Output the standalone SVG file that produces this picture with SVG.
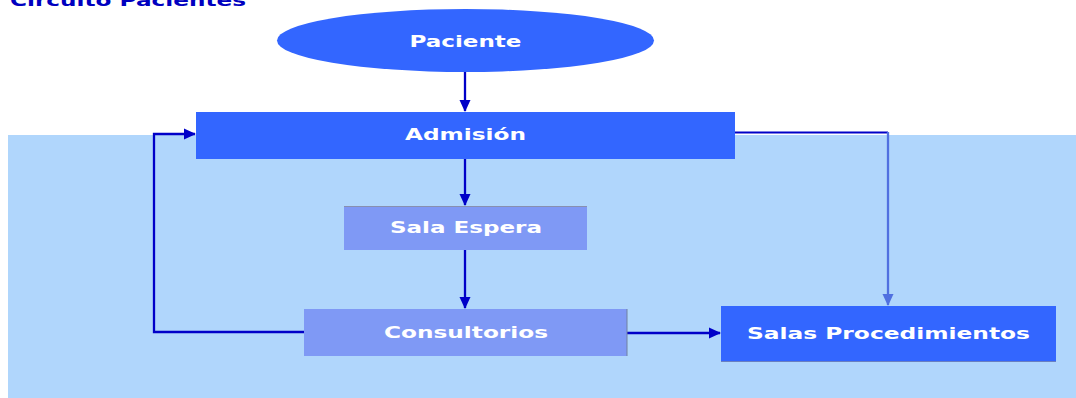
<svg xmlns="http://www.w3.org/2000/svg" width="1076" height="398" viewBox="0 0 1076 398">
<style>
.lbl{font-family:"DejaVu Sans",sans-serif;font-weight:bold;font-size:16px;fill:#ffffff;text-anchor:middle}
.dark{fill:#3366ff}
.light{fill:#7f99f5}
.con{fill:none;stroke:#0000c8;stroke-width:2.3}
</style>
<defs>
<marker id="ah" markerWidth="12" markerHeight="12" refX="11" refY="6" orient="auto" markerUnits="userSpaceOnUse">
<path d="M0,0.5 L12,6 L0,11.5 Z" fill="#0000c8"/>
</marker>
<marker id="ah2" markerWidth="12" markerHeight="12" refX="11" refY="6" orient="auto" markerUnits="userSpaceOnUse">
<path d="M0,0.5 L12,6 L0,11.5 Z" fill="#5070e0"/>
</marker>
</defs>
<rect x="8" y="135" width="1068" height="263" fill="#b0d6fc"/>
<text x="10" y="6" font-family="DejaVu Sans,sans-serif" font-weight="bold" font-size="16" fill="#0000c0" textLength="236" lengthAdjust="spacingAndGlyphs">Circuito Pacientes</text>
<g id="connectors">
<path class="con" d="M465,72 V111" marker-end="url(#ah)"/>
<path class="con" d="M465,159 V205" marker-end="url(#ah)"/>
<path class="con" d="M465,250 V308" marker-end="url(#ah)"/>
<path class="con" d="M304,332 H154 V134 H195" marker-end="url(#ah)"/>
<path class="con" d="M627,333 H720" marker-end="url(#ah)"/>
<path d="M735,132.5 H888" fill="none" stroke="#0000c8" stroke-width="1.8"/>
<path d="M888,132 V305" fill="none" stroke="#5070e0" stroke-width="2.3" marker-end="url(#ah2)"/>
</g>
<g id="paciente">
<ellipse cx="465.5" cy="40.5" rx="188.5" ry="31.5" class="dark"/>
<text class="lbl" x="465.5" y="46.5" textLength="112" lengthAdjust="spacingAndGlyphs">Paciente</text>
</g>
<g id="admision">
<rect x="196" y="112" width="539" height="47" class="dark"/>
<text class="lbl" x="465.5" y="140" textLength="121" lengthAdjust="spacingAndGlyphs">Admisión</text>
</g>
<g id="sala-espera">
<rect x="344" y="206" width="243" height="44" class="light"/>
<line x1="344" y1="206.5" x2="587" y2="206.5" stroke="#8890b0" stroke-width="1"/>
<text class="lbl" x="466" y="233" textLength="152" lengthAdjust="spacingAndGlyphs">Sala Espera</text>
</g>
<g id="consultorios">
<rect x="304" y="309" width="323" height="47" class="light"/>
<line x1="627" y1="309" x2="627" y2="356" stroke="#7080a0" stroke-width="1"/>
<text class="lbl" x="466" y="338" textLength="164" lengthAdjust="spacingAndGlyphs">Consultorios</text>
</g>
<g id="salas-procedimientos">
<rect x="721" y="306" width="335" height="55" class="dark"/>
<line x1="721" y1="361.5" x2="1056" y2="361.5" stroke="#6a80c0" stroke-width="1"/>
<text class="lbl" x="888.5" y="339" textLength="283" lengthAdjust="spacingAndGlyphs">Salas Procedimientos</text>
</g>
</svg>
